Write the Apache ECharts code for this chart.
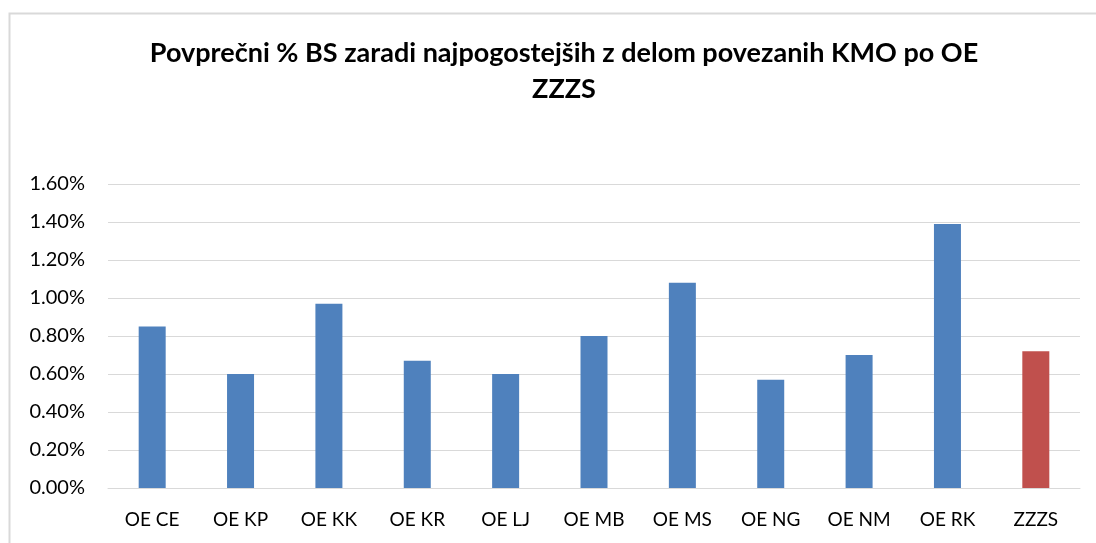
<!DOCTYPE html>
<html><head><meta charset="utf-8">
<script src="https://cdn.jsdelivr.net/npm/echarts@6/dist/echarts.min.js"></script>
<style>html,body{margin:0;padding:0;background:#fff}#c{width:1096px;height:543px}</style>
</head><body><div id="c"></div>
<script>
const categories = ['OE CE','OE KP','OE KK','OE KR','OE LJ','OE MB','OE MS','OE NG','OE NM','OE RK','ZZZS'];
const values = [0.85,0.60,0.97,0.67,0.60,0.80,1.08,0.57,0.70,1.39,0.72];
const titleText = 'Povprečni % BS zaradi najpogostejših z delom povezanih KMO po OE\nZZZS';
const blue = '#4f81bd', red = '#c0504d';
const chart = echarts.init(document.getElementById('c'));
chart.setOption({
  animation:false,
  graphic:[{type:'rect',shape:{x:9.5,y:13.5,width:1100,height:540},style:{fill:'none',stroke:'#d9d9d9',lineWidth:2}}],
  title:{text:titleText,left:559,top:30,textAlign:'center',
    textStyle:{fontFamily:'Lato',fontWeight:'bold',fontSize:27,color:'#000',lineHeight:36}},
  grid:{left:108,right:16,top:184,bottom:55,containLabel:false},
  xAxis:{type:'category',data:categories,
    axisLine:{show:true,lineStyle:{color:'#d9d9d9',width:1}},
    axisTick:{show:false},
    axisLabel:{color:'#000',fontFamily:'Lato',fontSize:19,margin:22}},
  yAxis:{type:'value',min:0,max:1.6,interval:0.2,
    axisLine:{show:false},axisTick:{show:false},
    splitLine:{lineStyle:{color:'#d9d9d9',width:1}},
    axisLabel:{color:'#000',fontFamily:'Lato',fontSize:20,margin:23,formatter:v=>v.toFixed(2)+'%'}},
  series:[{type:'bar',barWidth:27,
    data:values.map((v,i)=>({value:v,itemStyle:{color:categories[i]==='ZZZS'?red:blue}}))}]
});
</script></body></html>
